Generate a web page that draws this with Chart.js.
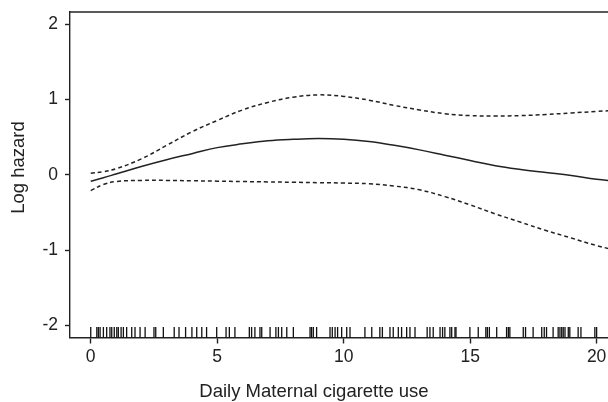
<!DOCTYPE html>
<html>
<head>
<meta charset="utf-8">
<script src="https://cdn.jsdelivr.net/npm/chart.js@4/dist/chart.umd.min.js"></script>
<style>
  html, body { margin:0; padding:0; background:#fff; }
  canvas { display:block; }
</style>
</head>
<body>
<canvas id="c" width="608" height="402"></canvas>
<script>
// x grid for the fitted curves (cigarettes per day)
const DOSE  = [0, 0.5, 1, 2, 3, 4, 5, 6, 7, 8, 9, 10, 11, 12, 13, 14, 15, 16, 17, 18, 19, 20, 21];
// fitted log hazard
const FIT   = [-0.085, -0.04, 0.01, 0.11, 0.20, 0.28, 0.36, 0.41, 0.45, 0.47, 0.48, 0.47, 0.44, 0.39, 0.33, 0.26, 0.19, 0.12, 0.07, 0.03, -0.01, -0.06, -0.09];
// upper / lower confidence band
const UPPER = [0.02, 0.04, 0.08, 0.21, 0.39, 0.57, 0.72, 0.86, 0.96, 1.03, 1.06, 1.04, 0.99, 0.92, 0.86, 0.81, 0.785, 0.78, 0.785, 0.80, 0.82, 0.84, 0.86];
const LOWER = [-0.21, -0.13, -0.09, -0.075, -0.075, -0.08, -0.085, -0.09, -0.095, -0.10, -0.105, -0.11, -0.12, -0.15, -0.20, -0.29, -0.40, -0.52, -0.63, -0.74, -0.84, -0.94, -1.02];
// observed values (rug)
const RUG = [0.0, 0.24, 0.30, 0.37, 0.50, 0.63, 0.76, 0.83, 0.93, 1.03, 1.09, 1.20, 1.29, 1.42, 1.62, 1.75, 1.95, 2.15,
  2.50, 2.57, 2.87, 3.30, 3.49, 3.75, 4.00, 4.19, 4.39, 4.58, 4.98, 5.35, 5.48, 5.70, 6.27, 6.36, 6.49, 6.69, 6.76,
  7.09, 7.32, 7.42, 7.55, 7.75, 8.01, 8.67, 8.73, 8.80, 8.93, 9.46, 9.55, 9.66, 9.76, 9.92, 10.12, 10.25, 10.84,
  11.11, 11.43, 11.53, 11.83, 11.96, 12.16, 12.29, 12.49, 12.62, 12.82, 13.30, 13.41, 13.54, 13.81, 13.91, 14.00,
  14.20, 14.27, 14.40, 14.44, 14.99, 15.32, 15.62, 15.68, 15.76, 16.05, 16.44, 16.51, 16.57, 17.10, 17.19, 17.49,
  17.83, 17.93, 18.02, 18.28, 18.48, 18.55, 18.62, 18.68, 18.75, 18.88, 18.94, 19.27, 19.38, 19.93, 20.0];
const X_TICKS = [0, 5, 10, 15, 20];
const Y_TICKS = [-2, -1, 0, 1, 2];
const X_TITLE = 'Daily Maternal cigarette use';
const Y_TITLE = 'Log hazard';

const INK = '#222';
const FAMILY = "'Liberation Sans', Arial, sans-serif";
const font = { family: FAMILY, size: 17.5 };
const RUG_Y = -2.095;

const pts = ys => DOSE.map((x, i) => ({ x, y: ys[i] }));

const frameAndTitles = {
  id: 'frameAndTitles',
  afterDraw(chart) {
    const { ctx, chartArea: a } = chart;
    ctx.save();
    ctx.strokeStyle = INK;
    ctx.lineWidth = 1.4;
    ctx.beginPath();
    ctx.moveTo(a.left, a.top);
    ctx.lineTo(a.right + 2, a.top);
    ctx.stroke();
    ctx.fillStyle = INK;
    ctx.font = `18.5px ${FAMILY}`;
    ctx.textAlign = 'center';
    ctx.textBaseline = 'middle';
    ctx.fillText(X_TITLE, 314, 392);
    ctx.translate(18.5, 167.5);
    ctx.rotate(-Math.PI / 2);
    ctx.fillText(Y_TITLE, 0, 0);
    ctx.restore();
  }
};

new Chart(document.getElementById('c'), {
  type: 'line',
  data: {
    datasets: [
      { data: pts(FIT), borderColor: INK, borderWidth: 1.5, pointRadius: 0, tension: 0.4 },
      { data: pts(UPPER), borderColor: INK, borderWidth: 1.5, borderDash: [4, 3], pointRadius: 0, tension: 0.4 },
      { data: pts(LOWER), borderColor: INK, borderWidth: 1.5, borderDash: [4, 3], pointRadius: 0, tension: 0.4 },
      { type: 'scatter', data: RUG.map(x => ({ x, y: RUG_Y })), pointStyle: 'line', rotation: 90,
        pointRadius: 5.5, borderColor: '#111', borderWidth: 1.3, showLine: false }
    ]
  },
  options: {
    responsive: false,
    animation: false,
    events: [],
    layout: { autoPadding: false, padding: { top: 12, right: 0, left: 0, bottom: 0 } },
    plugins: { legend: { display: false }, tooltip: { enabled: false } },
    scales: {
      x: {
        type: 'linear', min: -0.82, max: 20.45,
        afterBuildTicks: s => { s.ticks = X_TICKS.map(v => ({ value: v })); },
        afterFit: s => { s.height = 64.5; s.paddingLeft = 0; s.paddingRight = 0; },
        grid: { drawOnChartArea: false, tickLength: 6, tickColor: INK, tickWidth: 1.4 },
        border: { color: INK, width: 1.4 },
        ticks: { color: INK, font, padding: 3, maxRotation: 0 }
      },
      y: {
        type: 'linear', min: -2.16, max: 2.16,
        afterBuildTicks: s => { s.ticks = Y_TICKS.map(v => ({ value: v })); },
        afterFit: s => { s.width = 70; s.paddingTop = 0; s.paddingBottom = 0; },
        grid: { drawOnChartArea: false, tickLength: 5, tickColor: INK, tickWidth: 1.4 },
        border: { color: INK, width: 1.4 },
        ticks: { color: INK, font, padding: 7 }
      }
    }
  },
  plugins: [frameAndTitles]
});
</script>
</body>
</html>
